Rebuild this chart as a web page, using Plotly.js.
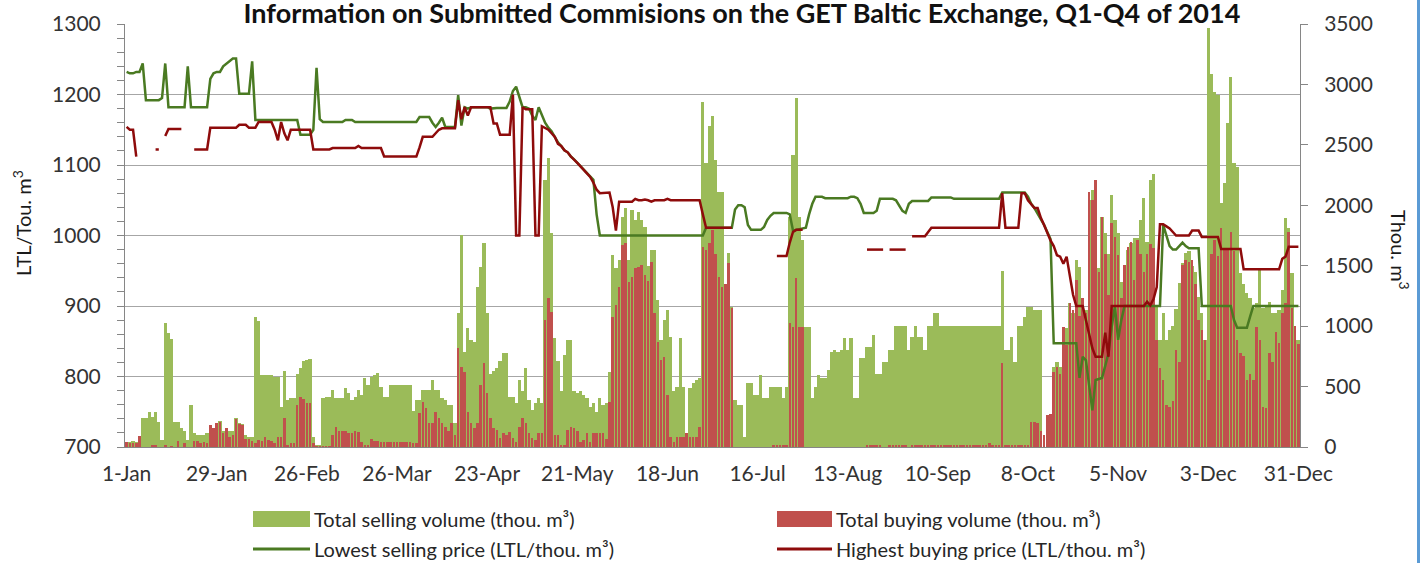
<!DOCTYPE html>
<html>
<head>
<meta charset="utf-8">
<script src="https://cdn.plot.ly/plotly-3.0.1.min.js"></script>
<style>
html,body{margin:0;padding:0;background:#fff;overflow:hidden}
#wrap{position:relative;width:1423px;height:563px}
#chart{width:1423px;height:563px}
#edge{position:absolute;left:1417px;top:0;width:3px;height:563px;background:#5B9BD5}
</style>
</head>
<body>
<div id="wrap"><div id="chart"></div><div id="edge"></div></div>
<script>
const chartTitle = 'Information on Submitted Commisions on the GET Baltic Exchange, Q1-Q4 of 2014';
const seriesNames = ['Total selling volume (thou. m³)', 'Total buying volume (thou. m³)',
                     'Lowest selling price (LTL/thou. m³)', 'Highest buying price (LTL/thou. m³)'];
const leftTitle = 'LTL/Tou. m<sup>3</sup>';
const rightTitle = 'Thou. m<sup>3</sup>';

const tickDays = [0, 28, 56, 84, 112, 140, 168, 196, 224, 252, 280, 308, 336, 364];
const tickLabels = ['1-Jan', '29-Jan', '26-Feb', '26-Mar', '23-Apr', '21-May', '18-Jun',
                    '16-Jul', '13-Aug', '10-Sep', '8-Oct', '5-Nov', '3-Dec', '31-Dec'];

// Total selling volume (thou. m3), daily 1 Jan - 31 Dec 2014
const sellVol = [45,45,50,40,90,240,240,292,250,292,
210,60,1025,943,893,210,210,155,130,60,
347,120,99,99,99,120,130,160,200,215,
130,160,130,130,240,200,190,100,80,80,
1078,1045,595,595,595,595,580,580,333,631,
390,405,405,600,653,710,720,725,85,16,
16,405,416,416,471,405,405,405,485,450,
390,416,471,430,570,515,580,595,610,500,
416,416,513,513,513,513,513,513,513,300,
390,390,471,471,471,554,471,471,405,390,
347,347,197,1108,1753,788,984,885,870,1326,
1491,1686,1108,600,625,650,710,777,777,416,
416,360,554,460,650,390,306,360,405,360,
2208,2388,1770,900,710,460,761,885,885,460,
445,460,430,405,333,360,290,405,347,360,
623,1588,1478,1545,1905,1974,1545,1960,1877,1946,
1877,1822,1500,1629,1629,1216,885,1050,1130,913,
460,499,901,499,113,485,527,554,570,2856,
2346,2655,2737,2373,2112,2112,1326,1602,1160,390,
347,347,85,532,532,430,430,595,405,405,
499,499,499,499,405,499,1905,2415,2884,1905,
1712,995,995,405,499,595,570,570,637,788,
800,788,800,899,802,899,403,403,733,733,
830,830,926,604,604,706,706,802,802,1001,
1001,1001,1001,802,912,1001,912,912,802,1001,
1001,1105,1105,1001,1001,1001,1001,1001,1001,1001,
1001,1001,1001,1001,1001,1001,1001,1001,1001,1001,
1001,1001,1458,802,802,907,706,1005,1005,1078,
1155,1155,1130,1130,1130,0,0,0,664,700,
664,720,981,1188,1105,1547,1491,1160,1130,2043,
2126,1505,1480,1905,1767,1600,2084,1877,1767,1367,
1505,1629,1685,1726,1726,1877,2057,1700,2208,2263,
1160,885,1105,885,968,1000,1143,1354,1519,1602,
1620,1500,1450,1243,1105,885,3463,3090,2939,2911,
2015,2181,2677,3063,2346,2318,1436,1350,1271,1230,
1150,1190,1478,1150,1160,1200,1105,1105,1130,1298,
1891,1808,1436,885,885];

// Total buying volume (thou. m3)
const buyVol = [44,30,36,30,91,0,0,0,16,16,
0,0,16,0,8,0,52,0,30,0,
0,52,52,30,44,30,182,155,196,210,
113,155,80,99,232,190,182,63,63,52,
36,58,50,85,58,52,30,85,85,240,
20,30,36,347,416,400,361,361,30,8,
8,8,8,8,99,168,135,135,135,113,
120,135,127,44,16,16,69,52,52,44,
44,44,44,44,44,44,44,44,44,30,
30,284,375,320,196,196,292,240,196,168,
135,196,100,816,664,623,292,196,155,196,
513,692,446,240,155,140,72,113,99,127,
72,44,168,240,196,113,72,58,113,113,
1050,1230,1119,99,99,16,16,141,168,155,
135,44,58,113,44,113,113,113,113,69,
375,1078,1174,1326,1671,1685,1364,1409,1478,1492,
1505,1420,1377,1532,1105,870,720,745,430,85,
44,85,85,85,113,85,85,85,168,1657,
1629,1685,1795,1600,1409,1326,1350,1519,1150,0,
0,0,0,0,0,0,0,0,0,0,
0,20,20,20,20,20,1023,995,1395,995,
995,0,0,0,0,0,0,0,0,0,
0,0,0,0,0,0,0,0,0,0,
14,14,14,14,14,0,0,14,14,14,
14,14,14,0,14,14,14,14,14,14,
14,14,14,14,14,14,14,14,14,14,
14,14,14,14,14,14,14,14,30,14,
14,14,697,14,14,14,14,14,14,14,
14,210,210,196,135,99,265,276,623,664,
600,995,844,1188,1133,1381,1080,1230,1110,2112,
2043,2208,1450,1905,1600,1257,1850,1740,1588,1230,
1505,1657,1700,1380,1712,1600,1450,1600,1680,1650,
885,650,554,350,330,380,800,700,1505,1550,
1530,1550,1350,1050,968,885,554,1600,1712,1580,
1808,1650,1630,1780,1620,885,775,750,554,600,
554,995,885,333,320,775,700,950,860,1105,
1188,1780,1150,1000,850];

// Lowest selling price (LTL/thou. m3)
const lowSell = [1232,1230,1230,1232,1232,1244,1192,1192,1192,1192,
1192,1195,1244,1182,1182,1182,1182,1182,1182,1240,
1182,1182,1182,1182,1182,1182,1222,1230,1232,1232,
1240,1244,1247,1251,1251,1201,1201,1201,1201,1247,
1164,1164,1164,1164,1164,1164,1164,1164,1164,1164,
1164,1164,1164,1164,1143,1143,1143,1143,1150,1238,
1165,1161,1161,1161,1161,1161,1161,1161,1164,1164,
1164,1161,1161,1161,1161,1161,1161,1161,1161,1161,
1161,1161,1161,1161,1161,1161,1161,1161,1161,1161,
1161,1168,1168,1168,1168,1160,1154,1160,1167,1154,
1154,1154,1154,1199,1156,1182,1180,1182,1182,1182,
1182,1182,1182,1180,1181,1181,1181,1181,1181,1190,
1205,1211,1195,1182,1182,1180,1170,1164,1182,1170,
1160,1153,1148,1140,1132,1127,1121,1118,1112,1108,
1103,1098,1093,1088,1083,1079,1030,1000,1000,1000,
1000,1000,1000,1000,1000,1000,1000,1000,1000,1000,
1000,1000,1000,1000,1000,1000,1000,1000,1000,1000,
1000,1000,1000,1000,1000,1000,1000,1000,1000,1000,
1011,1011,1011,1011,1011,1011,1011,1011,1011,1037,
1043,1043,1040,1015,1008,1008,1008,1008,1012,1022,
1028,1032,1032,1032,1032,1032,1030,1007,1008,1009,
1010,1011,1030,1045,1055,1055,1055,1053,1053,1053,
1053,1053,1053,1053,1053,1055,1055,1053,1045,1032,
1032,1032,1032,1035,1052,1052,1052,1052,1052,1050,
1043,1035,1032,1045,1049,1049,1049,1049,1049,1049,
1054,1054,1054,1054,1054,1054,1054,1052,1052,1052,
1052,1052,1052,1052,1052,1052,1052,1052,1052,1052,
1052,1052,1061,1061,1061,1061,1061,1061,1061,1061,
1055,1045,1039,1031,1025,1015,1005,995,847,847,
847,847,847,847,847,847,798,828,823,790,
752,795,797,798,815,833,870,900,852,880,
900,900,900,900,900,900,900,900,900,900,
900,900,1015,1000,985,980,980,985,990,985,
982,982,982,982,900,900,900,900,900,900,
900,900,900,900,880,869,869,869,869,885,
900,900,900,900,900,900,900,900,900,900,
900,900,900,900,900];

// Highest buying price (LTL/thou. m3); null = no bid that day
const highBuy = [1154,1150,1150,1112,null,null,null,null,null,1122,
1122,null,1141,1151,1151,1151,1151,1151,null,null,
null,1122,1122,1122,1122,1122,1153,1153,1153,1153,
1153,1153,1153,1153,1153,1157,1157,1157,1153,1153,
1153,1161,1161,1161,1161,1161,1150,1135,1161,1145,
1135,1150,1150,1150,1150,1150,1150,1150,1122,1122,
1122,1122,1122,1122,1124,1124,1124,1124,1124,1124,
1124,1124,1127,1124,1124,1124,1124,1124,1124,1124,
1112,1112,1112,1112,1112,1112,1112,1112,1112,1112,
1112,1125,1140,1140,1140,1140,1145,1150,1152,1152,
1152,1152,1152,1192,1165,1182,1170,1182,1182,1182,
1182,1182,1182,1182,1159,1159,1143,1143,1143,1143,
1200,1000,1000,1182,1179,1179,1179,1000,1000,1155,
1152,1150,1145,1140,1130,1127,1121,1118,1112,1108,
1103,1098,1093,1088,1083,1075,1065,1060,1060,1060,
1061,1040,1007,1048,1048,1048,1048,1048,1052,1050,
1050,1051,1050,1048,1050,1050,1050,1050,1052,1050,
1050,1050,1050,1050,1050,1050,1050,1050,1050,1030,
1011,1011,1011,1011,1011,1011,1011,1011,1011,null,
null,null,null,null,null,null,null,null,null,null,
null,null,971,971,971,971,990,1005,1008,1008,
1008,null,null,null,null,null,null,null,null,null,
null,null,null,null,null,null,null,null,null,null,
980,980,980,980,980,980,null,980,980,980,
980,980,980,null,999,999,999,999,999,1005,
1011,1011,1011,1011,1011,1011,1011,1011,1011,1011,
1011,1011,1011,1011,1011,1011,1011,1011,1011,1011,
1011,1011,1060,1011,1011,1011,1011,1011,1060,1060,
1050,1045,1039,1039,1025,1015,1003,993,985,972,
970,960,970,940,916,900,900,900,880,862,
840,828,828,828,862,828,900,900,900,900,
900,900,900,900,900,900,900,906,901,910,
927,1016,1016,1013,1010,1005,1000,1000,1000,1000,
1000,1007,1007,1007,998,998,998,998,998,998,
981,981,981,981,981,981,981,952,952,952,
952,952,952,952,952,952,952,952,952,967,
970,984,984,984,984];

const days = sellVol.map((_, i) => i);

const GREEN_BAR = '#9BBB59', RED_BAR = '#C0504D';
const GREEN_LINE = '#4A7A22', RED_LINE = '#8E0B0B';
const FONT = 'Lato, "Liberation Sans", Arial, sans-serif';
const AXIS = '#868686';
const TICKFONT = {family: FONT, size: 21, color: '#333333'};

const traces = [
  {type: 'bar', name: seriesNames[0], x: days, y: sellVol, yaxis: 'y', width: 1,
   marker: {color: GREEN_BAR, line: {width: 0}}, hoverinfo: 'skip'},
  {type: 'bar', name: seriesNames[1], x: days, y: buyVol, yaxis: 'y', width: 0.78,
   marker: {color: RED_BAR, line: {width: 0}}, hoverinfo: 'skip'},
  {type: 'scatter', mode: 'lines', name: seriesNames[2], x: days, y: lowSell, yaxis: 'y2',
   line: {color: GREEN_LINE, width: 2.5}, connectgaps: false, hoverinfo: 'skip'},
  {type: 'scatter', mode: 'lines', name: seriesNames[3], x: days, y: highBuy, yaxis: 'y2',
   line: {color: RED_LINE, width: 2.5}, connectgaps: false, hoverinfo: 'skip'}
];

// plot area: x 125..1300 px, y 24..447 px
const PL = 125, PR = 1300, PT = 24, PB = 447;
const px = v => (v - PL) / (PR - PL);
const py = v => (PB - v) / (PB - PT);

const legendFont = {family: FONT, size: 20, color: '#262626'};
const shapes = [
  {type: 'rect', xref: 'paper', yref: 'paper', x0: px(253), x1: px(310), y0: py(527), y1: py(511),
   fillcolor: GREEN_BAR, line: {width: 0}},
  {type: 'rect', xref: 'paper', yref: 'paper', x0: px(777), x1: px(832), y0: py(527), y1: py(511),
   fillcolor: RED_BAR, line: {width: 0}},
  {type: 'line', xref: 'paper', yref: 'paper', x0: px(253), x1: px(310), y0: py(549), y1: py(549),
   line: {color: GREEN_LINE, width: 3}},
  {type: 'line', xref: 'paper', yref: 'paper', x0: px(777), x1: px(832), y0: py(549), y1: py(549),
   line: {color: RED_LINE, width: 3}}
];
const annotations = [
  {text: seriesNames[0], xref: 'paper', yref: 'paper', x: px(312), y: py(519), xanchor: 'left', yanchor: 'middle', showarrow: false, font: legendFont},
  {text: seriesNames[1], xref: 'paper', yref: 'paper', x: px(834), y: py(519), xanchor: 'left', yanchor: 'middle', showarrow: false, font: legendFont},
  {text: seriesNames[2], xref: 'paper', yref: 'paper', x: px(312), y: py(549), xanchor: 'left', yanchor: 'middle', showarrow: false, font: legendFont},
  {text: seriesNames[3], xref: 'paper', yref: 'paper', x: px(834), y: py(549), xanchor: 'left', yanchor: 'middle', showarrow: false, font: legendFont},
  {text: leftTitle, xref: 'paper', yref: 'paper', x: px(22), y: py(223), xanchor: 'center', yanchor: 'middle', textangle: -90, showarrow: false, font: {family: FONT, size: 20, color: '#1a1a1a'}},
  {text: rightTitle, xref: 'paper', yref: 'paper', x: px(1400), y: py(250), xanchor: 'center', yanchor: 'middle', textangle: 90, showarrow: false, font: {family: FONT, size: 20, color: '#1a1a1a'}}
];

const layout = {
  width: 1423, height: 563,
  margin: {l: PL, r: 1423 - PR, t: PT, b: 563 - PB},
  paper_bgcolor: '#ffffff', plot_bgcolor: 'rgba(0,0,0,0)',
  font: {family: FONT, size: 20, color: '#333333'},
  showlegend: false,
  barmode: 'overlay', bargap: 0,
  title: {text: '<b>' + chartTitle + '</b>', xref: 'container', x: 0.5214, xanchor: 'center',
          yref: 'container', y: 1, yanchor: 'top', pad: {t: 4, b: 0, l: 0, r: 0},
          font: {family: FONT, size: 27, color: '#111111'}},
  xaxis: {range: [-0.5, 364.5], tickmode: 'array', tickvals: tickDays, ticktext: tickLabels,
          showline: true, linecolor: AXIS, linewidth: 1, ticks: '', showgrid: false, zeroline: false,
          tickfont: TICKFONT, ticklabelstandoff: 8, fixedrange: true},
  yaxis: {side: 'right', range: [0, 3500], dtick: 500, showgrid: false, zeroline: false,
          showline: true, linecolor: AXIS, linewidth: 1, ticks: 'outside', ticklen: 7, tickcolor: AXIS,
          tickfont: TICKFONT, ticklabelstandoff: 12, fixedrange: true},
  yaxis2: {overlaying: 'y', side: 'left', range: [700, 1300], dtick: 100, showgrid: true,
           gridcolor: '#A6A6A6', gridwidth: 1, zeroline: false, showline: true, linecolor: AXIS, linewidth: 1,
           ticks: 'outside', ticklen: 7, tickcolor: AXIS,
           minor: {dtick: 20, ticks: 'outside', ticklen: 7, tickcolor: AXIS, showgrid: false},
           tickfont: TICKFONT, ticklabelstandoff: 12, fixedrange: true},
  shapes: shapes,
  annotations: annotations
};

Plotly.newPlot('chart', traces, layout, {displayModeBar: false, staticPlot: true});
</script>
</body>
</html>
